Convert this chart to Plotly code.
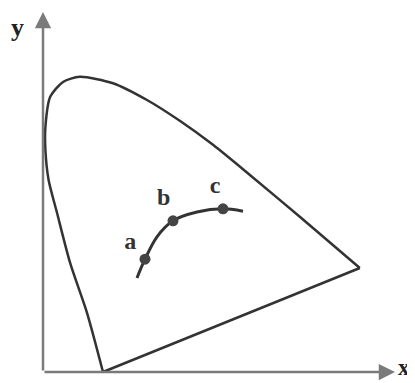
import plotly.graph_objects as go

# Spectral locus (horseshoe), in chromaticity-like units
locus_x = [0.150, 0.110, 0.068, 0.035, 0.014, 0.006, 0.006, 0.018, 0.050, 0.092,
           0.175, 0.260, 0.342, 0.425, 0.518, 0.642, 0.792]
locus_y = [0.000, 0.148, 0.272, 0.398, 0.480, 0.555, 0.612, 0.688, 0.725, 0.738,
           0.722, 0.680, 0.628, 0.568, 0.492, 0.388, 0.260]

# Line of purples
purple_x = [0.792, 0.150]
purple_y = [0.260, 0.000]

# Curve through points a, b, c
curve_x = [0.235, 0.255, 0.285, 0.325, 0.385, 0.450, 0.500]
curve_y = [0.235, 0.282, 0.338, 0.378, 0.400, 0.408, 0.402]

point_labels = ["a", "b", "c"]
point_x = [0.255, 0.325, 0.450]
point_y = [0.282, 0.378, 0.408]
label_x = [0.218, 0.302, 0.430]
label_y = [0.322, 0.432, 0.462]

axis_color = "#7a7a7a"
ink = "#333333"
serif = "Liberation Serif"

fig = go.Figure()

fig.add_trace(go.Scatter(x=locus_x, y=locus_y, mode="lines",
                         line=dict(color=ink, width=2.5, shape="spline", smoothing=0.7),
                         hoverinfo="skip"))
fig.add_trace(go.Scatter(x=purple_x, y=purple_y, mode="lines",
                         line=dict(color=ink, width=2.5), hoverinfo="skip"))
fig.add_trace(go.Scatter(x=curve_x, y=curve_y, mode="lines",
                         line=dict(color=ink, width=3, shape="spline"),
                         hoverinfo="skip"))
fig.add_trace(go.Scatter(x=point_x, y=point_y, mode="markers",
                         marker=dict(color="#444444", size=11), hoverinfo="skip"))
fig.add_trace(go.Scatter(x=label_x, y=label_y, mode="text", text=point_labels,
                         texttemplate="<b>%{text}</b>",
                         textfont=dict(family=serif, size=24, color="#333333"),
                         hoverinfo="skip"))

# axes with arrow heads
fig.add_annotation(x=0, y=0.90, ax=0, ay=0, xref="x", yref="y", axref="x", ayref="y",
                   showarrow=True, arrowhead=2, arrowsize=1.3, arrowwidth=2.5,
                   arrowcolor=axis_color, text="")
fig.add_annotation(x=0.88, y=0, ax=0, ay=0, xref="x", yref="y", axref="x", ayref="y",
                   showarrow=True, arrowhead=2, arrowsize=1.3, arrowwidth=2.5,
                   arrowcolor=axis_color, text="")
fig.add_annotation(x=-0.065, y=0.862, text="<b>y</b>", showarrow=False,
                   font=dict(family=serif, size=26, color="#222222"))
fig.add_annotation(x=0.884, y=0.012, text="<b>x</b>", showarrow=False,
                   xanchor="left", borderpad=0,
                   font=dict(family=serif, size=23, color="#222222"))

# the page body has an 8px margin, so the ranges are shifted to compensate
fig.update_layout(
    width=407, height=375,
    margin=dict(l=0, r=0, t=0, b=0),
    paper_bgcolor="white", plot_bgcolor="white",
    showlegend=False,
    xaxis=dict(range=[-0.0875, 0.93], visible=False, fixedrange=True),
    yaxis=dict(range=[-0.0275, 0.91], visible=False, fixedrange=True),
)

fig.write_html("out.html")
